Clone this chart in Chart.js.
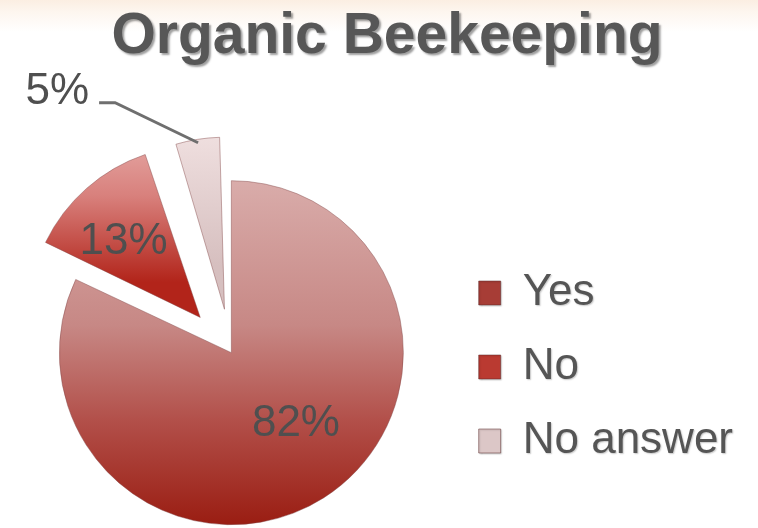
<!DOCTYPE html>
<html>
<head>
<meta charset="utf-8">
<script src="https://cdn.jsdelivr.net/npm/chart.js@4.4.1/dist/chart.umd.min.js"></script>
<style>
html,body{margin:0;padding:0;}
body{width:758px;height:528px;overflow:hidden;background:linear-gradient(to bottom,#fbeee2 0px,#fdf6ef 12px,#ffffff 32px);}
canvas{display:block;}
</style>
</head>
<body>
<canvas id="c" width="758" height="528"></canvas>
<script>
// ---- data ----
const chartTitle = 'Organic Beekeeping';
const categories = ['Yes', 'No', 'No answer'];
const percentages = [82, 13, 5];
const valueLabels = ['82%', '13%', '5%'];

// ---- styles ----
const FONT = "'Liberation Sans', Arial, Helvetica, sans-serif";
const RADIUS = 172;
const EXPLODE = [0, 47, 44];          // px each slice is pulled out
const gradStops = [
  [[0, '#d9acaa'], [0.42, '#c78885'], [0.7, '#b24f49'], [1, '#9a1d12']],
  [[0, '#ebbab8'], [0.5, '#d8807c'], [1, '#b2241a']],
  [[0, '#f7e9e9'], [1, '#d6bfbf']]
];
const solidFill = ['#b45a55', '#c9524b', '#e6d3d3'];
const legendFill = ['#a73d36', '#ba3a31', '#dcc7c7'];

Chart.defaults.font.family = FONT;

function sliceGeom(chart, i) {
  const a = chart.chartArea;
  const cx = (a.left + a.right) / 2, cy = (a.top + a.bottom) / 2;
  const total = percentages.reduce((s, v) => s + v, 0);
  let cum = 0;
  for (let k = 0; k < i; k++) cum += percentages[k];
  const start = -Math.PI / 2 + cum / total * 2 * Math.PI;
  const end = start + percentages[i] / total * 2 * Math.PI;
  const mid = (start + end) / 2;
  return {cx, cy, ax: cx + Math.cos(mid) * EXPLODE[i], ay: cy + Math.sin(mid) * EXPLODE[i]};
}

function sliceFill(c) {
  const chart = c.chart, i = c.dataIndex;
  if (!chart.chartArea) return solidFill[i];
  const g = sliceGeom(chart, i);
  const y0 = i === 0 ? g.cy - RADIUS : g.ay - RADIUS;
  const y1 = i === 0 ? g.cy + RADIUS : g.ay;
  const grad = chart.ctx.createLinearGradient(0, y0, 0, y1);
  gradStops[i].forEach(s => grad.addColorStop(s[0], s[1]));
  return grad;
}

// keep exploded slices at the same radius as the main slice
const radiusFix = {
  id: 'radiusFix',
  afterDatasetsUpdate(chart) {
    const meta = chart.getDatasetMeta(0);
    meta.data.forEach(el => {
      const off = (el.options.offset || 0) / 4;
      const circ = el.endAngle - el.startAngle;
      const fix = 1 - Math.sin(Math.min(Math.PI, circ));
      el.outerRadius = RADIUS - off * fix;
    });
  }
};

// title shift + shadow, legend text shadow
const shadowText = {
  id: 'shadowText',
  afterLayout(chart, args, opts) {
    const tb = chart.titleBlock;
    if (tb) {
      const dx = opts.titleCenterX - (tb.left + tb.right) / 2;
      tb.left += dx; tb.right += dx;
      if (!tb._wrapped) {
        const orig = tb.draw;
        tb.draw = function () {
          const ctx = chart.ctx;
          ctx.save();
          ctx.shadowColor = 'rgba(0,0,0,0.38)';
          ctx.shadowOffsetX = 2; ctx.shadowOffsetY = 2; ctx.shadowBlur = 2;
          orig.apply(this, arguments);
          ctx.restore();
        };
        tb._wrapped = true;
      }
    }
    const lg = chart.legend;
    if (lg && !lg._wrapped) {
      const o = lg.draw;
      lg.draw = function () {
        const ctx = chart.ctx;
        ctx.save();
        ctx.shadowColor = 'rgba(0,0,0,0.22)';
        ctx.shadowOffsetX = 1; ctx.shadowOffsetY = 1; ctx.shadowBlur = 1.5;
        o.apply(this, arguments);
        ctx.restore();
      };
      lg._wrapped = true;
    }
  }
};

const valueLabelPlugin = {
  id: 'valueLabels',
  afterDatasetsDraw(chart, args, opts) {
    const ctx = chart.ctx;
    const meta = chart.getDatasetMeta(0);
    ctx.save();
    ctx.font = opts.font;
    ctx.fillStyle = opts.color;
    meta.data.forEach((el, i) => {
      const p = el.getProps(['x', 'y', 'startAngle', 'endAngle'], true);
      const mid = (p.startAngle + p.endAngle) / 2;
      const off = (el.options.offset || 0) / 4;
      const ax = p.x + Math.cos(mid) * off, ay = p.y + Math.sin(mid) * off;
      const pl = opts.place[i];
      if (pl.outside) {
        const sx = ax + Math.cos(mid) * pl.r * RADIUS;
        const sy = ay + Math.sin(mid) * pl.r * RADIUS;
        const ex = sx + pl.elbowDx, ey = sy + pl.elbowDy;
        ctx.save();
        ctx.strokeStyle = opts.lineColor;
        ctx.lineWidth = 3;
        ctx.beginPath();
        ctx.moveTo(sx, sy);
        ctx.lineTo(ex, ey);
        ctx.lineTo(ex - pl.tail, ey);
        ctx.stroke();
        ctx.restore();
        ctx.textAlign = 'right';
        ctx.textBaseline = 'alphabetic';
        ctx.fillText(valueLabels[i], ex - pl.tail - pl.gap, ey + 1);
      } else {
        const d = pl.r * RADIUS;
        ctx.textAlign = 'center';
        ctx.textBaseline = 'middle';
        ctx.fillText(valueLabels[i], ax + Math.cos(mid) * d + pl.dx, ay + Math.sin(mid) * d + pl.dy);
      }
    });
    ctx.restore();
  }
};

new Chart(document.getElementById('c'), {
  type: 'pie',
  data: {
    labels: categories,
    datasets: [{
      data: percentages,
      backgroundColor: sliceFill,
      borderColor: 'rgba(130,70,70,0.45)',
      borderWidth: 1,
      offset: EXPLODE.map(v => v * 4),
      clip: false
    }]
  },
  options: {
    responsive: false,
    devicePixelRatio: 1,
    animation: false,
    events: [],
    radius: RADIUS,
    layout: {padding: {left: 14, right: 15, top: 0, bottom: 35}},
    plugins: {
      title: {
        display: true,
        text: chartTitle,
        color: '#575757',
        font: {size: 57, weight: 'bold', family: FONT},
        padding: {top: 3, bottom: 141}
      },
      legend: {
        position: 'right',
        align: 'end',
        labels: {
          boxWidth: 22,
          boxHeight: 24,
          padding: 30,
          color: '#555555',
          font: {size: 44, family: FONT},
          generateLabels: () => categories.map((t, i) => ({
            text: t, fillStyle: legendFill[i], strokeStyle: 'rgba(90,40,40,0.5)',
            lineWidth: 1, hidden: false, index: i, fontColor: '#555555'
          }))
        }
      },
      tooltip: {enabled: false},
      shadowText: {titleCenterX: 387},
      valueLabels: {
        font: '44px ' + FONT,
        color: '#4f4f4f',
        lineColor: '#6f6f6f',
        place: [
          {r: 0.56, dx: 13, dy: -10},
          {r: 0.63, dx: -5, dy: 6},
          {outside: true, r: 0.98, elbowDx: -83, elbowDy: -40, tail: 16, gap: 10}
        ]
      }
    }
  },
  plugins: [radiusFix, shadowText, valueLabelPlugin]
});
</script>
</body>
</html>
